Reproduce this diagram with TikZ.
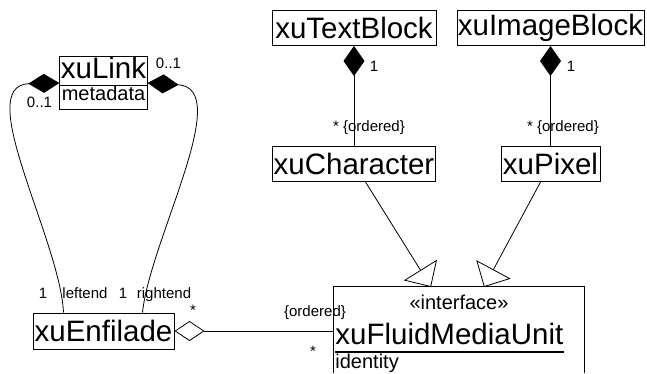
\documentclass[tikz,border=0pt]{standalone}
\usepackage{fontspec}
\setmainfont{Liberation Sans}
\usetikzlibrary{arrows.meta,positioning,shapes.multipart}

\begin{document}
\begin{tikzpicture}[x=1pt,y=-1pt,on grid,line width=0.8pt]
  \tikzstyle{classB}=[rectangle,draw,line width=1pt,inner sep=0pt,minimum height=35pt,font=\fontsize{29.5}{32}\selectfont]
  \tikzstyle{classL}=[rectangle split,rectangle split parts=2,draw,line width=1pt,inner xsep=1pt,inner ysep=0pt,minimum width=87pt,font=\fontsize{29.5}{32}\selectfont]
  \tikzstyle{attrT}=[inner sep=0pt,font=\fontsize{20}{22}\selectfont]
  \tikzstyle{lbl}=[inner sep=0pt,anchor=base,font=\fontsize{15}{16}\selectfont]
  \useasboundingbox (0,0) rectangle (647,373);

  \node[classB,minimum width=164pt] (textblock) at (354,28) {xuTextBlock};
  \node[classB,minimum width=187pt] (imageblock) at (550.5,28) {xuImageBlock};
  \node[classB,minimum width=163pt] (character) [below=135.5pt of textblock] {xuCharacter};
  \node[classB,minimum width=99pt] (pixel) [below=135.5pt of imageblock] {xuPixel};
  \node[classB,minimum width=141pt,minimum height=36pt] (enfilade) at (103.5,331) {xuEnfilade};
  \node[classL] (link) at (103.5,83)
    {\rule[-7pt]{0pt}{28pt}xuLink\nodepart{two}\fontsize{20}{22}\selectfont\rule[-8pt]{0pt}{17pt}metadata};

  % interface box, runs off the bottom
  \node[minimum width=250pt,minimum height=86pt,inner sep=0pt] (fmu) at (459,330) {};
  \draw[line width=1pt] (fmu.south west) -- (fmu.north west) -- (fmu.north east) -- (fmu.south east);
  \node[attrT] (stereo) at (459,302) {«interface»};
  \node[inner sep=0pt,anchor=base west,font=\fontsize{29.5}{32}\selectfont] (fmuname) at (335,344) {xuFluidMediaUnit};
  \draw[line width=1.5pt] ([yshift=-8pt]fmuname.base west) -- ([yshift=-8pt]fmuname.base east);
  \node[attrT,anchor=base west] (identity) at (335,368.5) {identity};

  \coordinate (gen1) at (431,287);
  \coordinate (gen2) at (484,287);

  \draw[{Diamond[length=30pt,width=21pt]}-] (textblock) -- (character);
  \draw[{Diamond[length=30pt,width=21pt]}-] (imageblock) -- (pixel);
  \draw[-{Triangle[open,length=20pt,width=39pt]}] (character) -- (gen1);
  \draw[-{Triangle[open,length=20pt,width=39pt]}] (pixel) -- (gen2);
  \draw[{Diamond[open,length=30pt,width=20pt]}-] (enfilade) -- (enfilade.east -| fmu.west);
  \draw[{Diamond[length=31pt,width=19pt]}-] (link.west) .. controls (-28,85) and (60,240) .. ([xshift=31pt]enfilade.north west);
  \draw[{Diamond[length=31pt,width=19pt]}-] (link.east) .. controls (235,88) and (150,240) .. ([xshift=110pt]enfilade.north west);

  \node[lbl] (tbone) at (374,71) {1};
  \node[lbl] (ibone) at (571,71) {1};
  \node[lbl] (chmany) at (369,131) {* \{ordered\}};
  \node[lbl] (pxmany) at (563,131) {* \{ordered\}};
  \node[lbl] (lkleft) at (39.5,107) {0..1};
  \node[lbl] (lkright) at (168.5,68) {0..1};
  \node[lbl] (enone1) at (43,298) {1};
  \node[lbl] (enleft) at (85,298) {leftend};
  \node[lbl] (enone2) at (123,298) {1};
  \node[lbl] (enright) at (164,298) {rightend};
  \node[lbl] (agmany1) at (193,315) {*};
  \node[lbl] (agord) at (315,316) {\{ordered\}};
  \node[lbl] (agmany2) at (313,356) {*};
\end{tikzpicture}
\end{document}
